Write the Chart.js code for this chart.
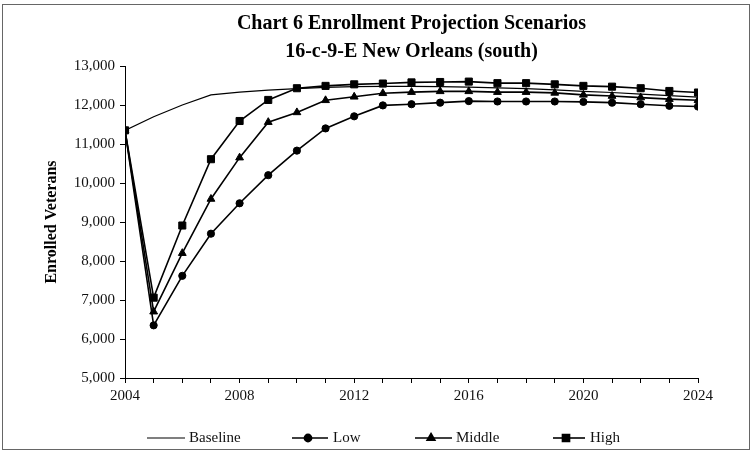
<!DOCTYPE html>
<html>
<head>
<meta charset="utf-8">
<script src="https://cdn.jsdelivr.net/npm/chart.js@4.4.1/dist/chart.umd.min.js"></script>
<style>
  html, body { margin: 0; padding: 0; background: #fff; }
  #wrap { width: 753px; height: 453px; }
</style>
</head>
<body>
<div id="wrap"><canvas id="c" width="753" height="453"></canvas></div>
<script>
/* ── data ── */
var YEARS    = [2004, 2005, 2006, 2007, 2008, 2009, 2010, 2011, 2012, 2013, 2014,
                2015, 2016, 2017, 2018, 2019, 2020, 2021, 2022, 2023, 2024];
var BASELINE = [11350, 11700, 12000, 12260, 12330, 12380, 12420, 12450, 12470, 12480, 12480,
                12470, 12460, 12440, 12420, 12390, 12350, 12320, 12280, 12240, 12200];
var LOW      = [11350, 6350, 7620, 8700, 9480, 10200, 10830, 11400, 11710, 11990, 12020,
                12060, 12100, 12090, 12090, 12090, 12080, 12060, 12020, 11980, 11960];
var MIDDLE   = [11350, 6700, 8200, 9590, 10650, 11560, 11810, 12120, 12210, 12300, 12330,
                12350, 12350, 12330, 12330, 12310, 12260, 12230, 12190, 12150, 12120];
var HIGH     = [11350, 7060, 8910, 10610, 11590, 12130, 12430, 12490, 12530, 12550, 12580,
                12590, 12600, 12560, 12560, 12530, 12490, 12470, 12430, 12360, 12320];
var SERIES_NAMES = ['Baseline', 'Low', 'Middle', 'High'];
var X_TICK_LABELS = [2004, 2008, 2012, 2016, 2020, 2024];
var TITLE = ['Chart 6 Enrollment Projection Scenarios', '16-c-9-E New Orleans (south)'];
var Y_TITLE = 'Enrolled Veterans';

var SERIF = '"Liberation Serif", "Times New Roman", serif';

function pts(vals) {
  return YEARS.map(function(y, i) { return { x: y, y: vals[i] }; });
}

// legend drawn under the axis: line with marker, like the spreadsheet original
var legendPos = [
  { line: [147, 185], mark: null, text: 189 },
  { line: [292, 328], mark: 308, text: 333 },
  { line: [415, 452], mark: 431, text: 456 },
  { line: [553, 585], mark: 566, text: 590 }
];

var framePlugin = {
  id: 'frame',
  beforeDraw: function(chart) {
    var ctx = chart.ctx;
    ctx.save();
    ctx.fillStyle = '#fff';
    ctx.fillRect(0, 0, chart.width, chart.height);
    ctx.strokeStyle = '#666';
    ctx.lineWidth = 1;
    ctx.strokeRect(2.5, 4.5, 747, 445);
    ctx.restore();
  },
  afterDraw: function(chart) {
    var ctx = chart.ctx, y = 438;
    ctx.save();
    ctx.font = '15px ' + SERIF;
    ctx.textBaseline = 'middle';
    // legend order follows SERIES_NAMES, datasets are stored High first
    SERIES_NAMES.forEach(function(name, i) {
      var ds = chart.data.datasets.find(function(d) { return d.label === name; });
      var p = legendPos[i];
      ctx.strokeStyle = '#000';
      ctx.lineWidth = ds.borderWidth;
      ctx.beginPath(); ctx.moveTo(p.line[0], y); ctx.lineTo(p.line[1], y); ctx.stroke();
      if (p.mark !== null && ds.pointRadius > 0) {
        ctx.fillStyle = '#000';
        Chart.helpers.drawPoint(ctx, {
          pointStyle: ds.pointStyle, radius: ds.pointRadius, rotation: 0, borderWidth: 1
        }, p.mark, y);
      }
      ctx.fillStyle = '#111';
      ctx.fillText(name, p.text, y);
    });
    ctx.restore();
  }
};

new Chart(document.getElementById('c').getContext('2d'), {
  type: 'line',
  data: {
    datasets: [
      { label: 'High', data: pts(HIGH), order: 0, borderColor: '#000', backgroundColor: '#000',
        borderWidth: 1.6, pointStyle: 'rect', pointRadius: 5, pointBorderWidth: 1, tension: 0 },
      { label: 'Middle', data: pts(MIDDLE), order: 1, borderColor: '#000', backgroundColor: '#000',
        borderWidth: 1.6, pointStyle: 'triangle', pointRadius: 4.5, pointBorderWidth: 1, tension: 0 },
      { label: 'Low', data: pts(LOW), order: 2, borderColor: '#000', backgroundColor: '#000',
        borderWidth: 1.6, pointStyle: 'circle', pointRadius: 3.6, pointBorderWidth: 1, tension: 0 },
      { label: 'Baseline', data: pts(BASELINE), order: 3, borderColor: '#000', backgroundColor: '#000',
        borderWidth: 1.2, pointRadius: 0, tension: 0 }
    ]
  },
  options: {
    responsive: false, animation: false, devicePixelRatio: 1,
    layout: { padding: { left: 0, right: 55, top: 0, bottom: 35 } },
    plugins: {
      legend: { display: false },
      tooltip: { enabled: false },
      title: {
        display: true, text: TITLE, color: '#000', fullSize: false,
        font: { family: SERIF, size: 20, weight: 'bold', lineHeight: 1.4 },
        padding: { top: 10, bottom: 0 }
      }
    },
    scales: {
      x: {
        type: 'linear', min: YEARS[0], max: YEARS[YEARS.length - 1],
        grid: { drawOnChartArea: false, color: '#000', tickLength: 5 },
        border: { color: '#000', width: 1 },
        ticks: {
          stepSize: 1, autoSkip: false, maxRotation: 0, padding: 4, color: '#111',
          font: { family: SERIF, size: 15 },
          callback: function(v) { return X_TICK_LABELS.indexOf(v) >= 0 ? String(v) : ''; }
        },
        afterFit: function(s) { s.height = 40; }
      },
      y: {
        min: 5000, max: 13000,
        grid: { drawOnChartArea: false, color: '#000', tickLength: 5 },
        border: { color: '#000', width: 1 },
        ticks: {
          stepSize: 1000, padding: 5, color: '#111',
          font: { family: SERIF, size: 15 },
          callback: function(v) { return v.toLocaleString('en-US'); }
        },
        title: {
          display: true, text: Y_TITLE, color: '#000',
          font: { family: SERIF, size: 16, weight: 'bold' },
          padding: { top: 42, bottom: 0 }
        },
        afterFit: function(s) { s.width = 125; }
      }
    }
  },
  plugins: [framePlugin]
});
</script>
</body>
</html>
